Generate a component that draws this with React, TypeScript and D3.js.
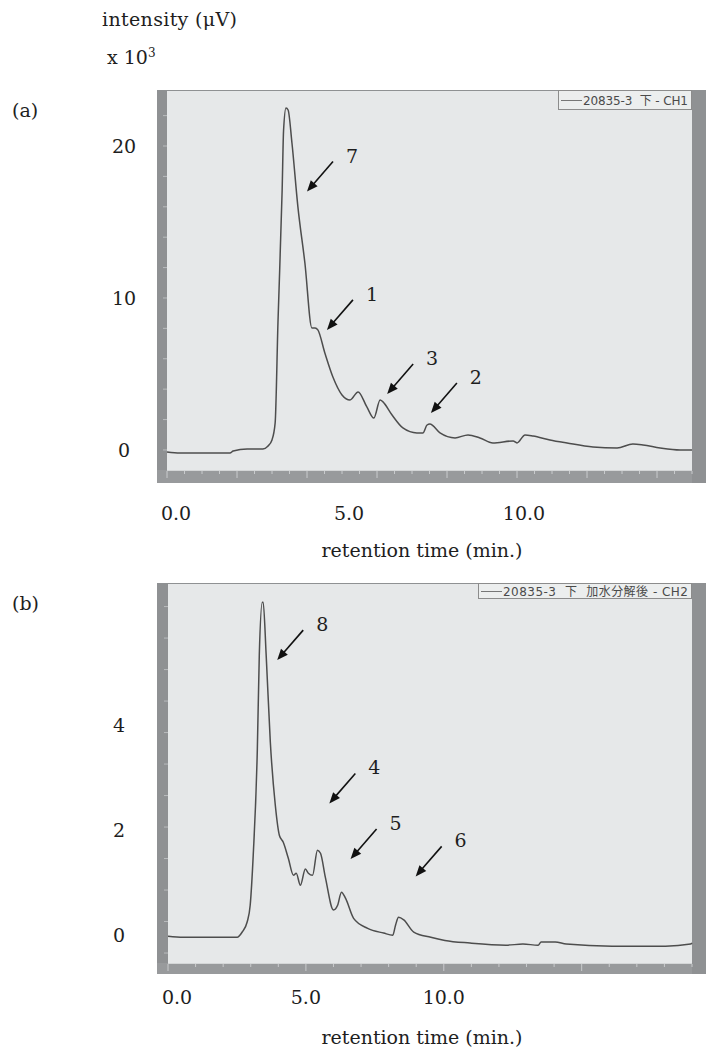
import React, { useEffect, useRef } from 'react';
import * as d3 from 'd3';

// --- Data ---
// (a) CH1, retention time (min) / intensity (x10^3 µV)
const timeA = [0, 0.37, 1.8, 1.89, 2.29, 2.74, 2.88, 3.0, 3.09, 3.17, 3.29, 3.33, 3.4, 3.46, 3.57, 3.74, 3.94, 4.14, 4.23, 4.31, 4.51, 4.74, 5.0, 5.23, 5.46, 5.71, 5.91, 6.09, 6.17, 6.43, 6.74, 7.14, 7.31, 7.43, 7.51, 7.8, 8.23, 8.6, 8.94, 9.31, 9.89, 10.0, 10.23, 10.46, 10.94, 11.43, 12.17, 12.86, 13.31, 13.6, 14.09, 14.66, 15.0];
const intensityA = [-0.13, -0.2, -0.2, -0.07, 0.07, 0.07, 0.25, 0.66, 1.78, 8.36, 17.1, 21.0, 22.5, 22.37, 20.2, 16.0, 12.3, 8.03, 8.03, 7.9, 6.38, 4.8, 3.62, 3.29, 3.82, 2.83, 2.1, 3.29, 3.16, 2.3, 1.45, 1.12, 1.12, 1.64, 1.71, 1.12, 0.79, 0.99, 0.79, 0.46, 0.59, 0.46, 0.99, 0.92, 0.66, 0.46, 0.2, 0.13, 0.39, 0.33, 0.13, 0.0, 0.0];

// (b) CH2 after hydrolysis
const timeB = [0, 0.55, 1.16, 2.51, 2.69, 2.87, 2.98, 3.09, 3.24, 3.31, 3.42, 3.45, 3.56, 3.71, 3.89, 4.04, 4.18, 4.36, 4.55, 4.65, 4.8, 4.98, 5.09, 5.24, 5.42, 5.53, 5.71, 6.0, 6.15, 6.29, 6.44, 6.73, 7.24, 7.82, 8.15, 8.25, 8.36, 8.55, 8.91, 9.53, 10.04, 10.95, 12.25, 12.87, 13.42, 13.53, 14.04, 14.44, 16.1, 18.04, 18.95, 19.0];
const intensityB = [-0.02, -0.04, -0.04, -0.04, 0.06, 0.25, 0.57, 1.52, 3.56, 5.33, 6.34, 6.34, 5.33, 3.68, 2.48, 1.9, 1.77, 1.47, 1.14, 1.18, 0.95, 1.26, 1.18, 1.14, 1.62, 1.56, 1.09, 0.48, 0.57, 0.82, 0.7, 0.32, 0.13, 0.04, 0.0, 0.19, 0.34, 0.29, 0.06, -0.04, -0.1, -0.15, -0.19, -0.17, -0.19, -0.13, -0.13, -0.17, -0.21, -0.21, -0.17, -0.15];

const xTickLabels = ['0.0', '5.0', '10.0'];
const xTickValues = [0, 5, 10];
const yTicksA = [0, 10, 20];
const yTicksB = [0, 2, 4];

// peak annotations: label, time and intensity of the arrow tip
const peaksA = [
  { label: '7', t: 4.0, v: 17.0 },
  { label: '1', t: 4.57, v: 7.9 },
  { label: '3', t: 6.29, v: 3.68 },
  { label: '2', t: 7.54, v: 2.43 },
];
const peaksB = [
  { label: '8', t: 3.96, v: 5.24 },
  { label: '4', t: 5.85, v: 2.51 },
  { label: '5', t: 6.62, v: 1.45 },
  { label: '6', t: 8.98, v: 1.12 },
];

const legendA = '20835-3  下 - CH1';
const legendB = '20835-3  下  加水分解後 - CH2';

const SERIF = "'DejaVu Serif', 'Liberation Serif', serif";
const SANS = "'DejaVu Sans', 'Noto Sans CJK JP', sans-serif";

type Panel = {
  tag: string;
  top: number; // frame top
  plotBottom: number;
  frameBottom: number;
  plotLeft: number;
  xDomain: [number, number];
  yDomain: [number, number];
  time: number[];
  values: number[];
  yTicks: number[];
  yLabelX: number;
  xMinor: number;
  xMajor: number;
  yTickStart: number;
  yTickStep: number;
  labelNudge: number;
  tickLabelY: number;
  titleY: number;
  peaks: { label: string; t: number; v: number }[];
  legend: string;
  legendLeft: number;
  legendBottom: number;
};

const panels: Panel[] = [
  {
    tag: '(a)', top: 90, plotBottom: 470, frameBottom: 483, plotLeft: 167,
    xDomain: [0, 15], yDomain: [-1.32, 23.62],
    time: timeA, values: intensityA, yTicks: yTicksA, yLabelX: 124,
    xMinor: 0.5, xMajor: 2, yTickStart: 0, yTickStep: 2,
    labelNudge: 7, tickLabelY: 520, titleY: 557,
    peaks: peaksA, legend: legendA, legendLeft: 558, legendBottom: 110,
  },
  {
    tag: '(b)', top: 583, plotBottom: 963, frameBottom: 974, plotLeft: 168,
    xDomain: [0, 19], yDomain: [-0.53, 6.69],
    time: timeB, values: intensityB, yTicks: yTicksB, yLabelX: 119,
    xMinor: 1, xMajor: 5, yTickStart: -0.34, yTickStep: 0.6,
    labelNudge: 0, tickLabelY: 1004, titleY: 1044,
    peaks: peaksB, legend: legendB, legendLeft: 478, legendBottom: 599,
  },
];

const App: React.FC = () => {
  const svgRef = useRef<SVGSVGElement | null>(null);

  useEffect(() => {
    if (!svgRef.current) return;
    const svg = d3.select(svgRef.current);
    svg.selectAll('*').remove();

    const plotRight = 692;
    const frameLeft = 157;
    const frameRight = 706;

    // axis caption at the top
    svg.append('text')
      .attr('x', 102).attr('y', 26)
      .attr('font-family', SERIF).attr('font-size', 19).attr('fill', '#1e1e1e')
      .attr('textLength', 135)
      .text('intensity (μV)');
    const exp = svg.append('text')
      .attr('x', 107).attr('y', 64)
      .attr('font-family', SERIF).attr('font-size', 19).attr('fill', '#1e1e1e');
    exp.append('tspan').text('x 10');
    exp.append('tspan').attr('font-size', 12).attr('dy', -7).text('3');

    panels.forEach(p => {
      const g = svg.append('g');
      const plotTop = p.top + 1;
      const x = d3.scaleLinear().domain(p.xDomain).range([p.plotLeft, plotRight]);
      const y = d3.scaleLinear().domain(p.yDomain).range([p.plotBottom, plotTop]);

      // --- frame ---
      g.append('rect')
        .attr('x', frameLeft).attr('y', p.top)
        .attr('width', frameRight - frameLeft).attr('height', p.frameBottom - p.top)
        .attr('fill', '#8f9193');
      g.append('rect')
        .attr('x', frameLeft).attr('y', p.plotBottom)
        .attr('width', plotRight - frameLeft).attr('height', p.frameBottom - p.plotBottom)
        .attr('fill', '#989a9c');
      g.append('rect')
        .attr('x', p.plotLeft).attr('y', plotTop)
        .attr('width', plotRight - p.plotLeft).attr('height', p.plotBottom - plotTop)
        .attr('fill', '#e6e8e9');
      g.append('line')
        .attr('x1', p.plotLeft).attr('x2', plotRight)
        .attr('y1', p.plotBottom + 0.5).attr('y2', p.plotBottom + 0.5)
        .attr('stroke', '#d4d6d7').attr('stroke-width', 1);

      // x ticks on the bottom bar
      const xt = d3.range(p.xDomain[0], p.xDomain[1] + 1e-6, p.xMinor);
      g.selectAll('.xt').data(xt).enter().append('line')
        .attr('x1', d => x(d)).attr('x2', d => x(d))
        .attr('y1', p.plotBottom + 1)
        .attr('y2', d => p.plotBottom + (Math.abs(d / p.xMajor - Math.round(d / p.xMajor)) < 1e-6 ? 8 : 4))
        .attr('stroke', '#c9cbcd').attr('stroke-width', 1);

      // y ticks on the left bar
      const yt = d3.range(p.yTickStart, p.yDomain[1], p.yTickStep);
      g.selectAll('.yt').data(yt).enter().append('line')
        .attr('x1', p.plotLeft - 4).attr('x2', p.plotLeft)
        .attr('y1', d => y(d)).attr('y2', d => y(d))
        .attr('stroke', '#b9bbbd').attr('stroke-width', 1);

      // --- legend box ---
      const lg = g.append('g');
      lg.append('rect')
        .attr('x', p.legendLeft + 0.5).attr('y', plotTop - 0.5)
        .attr('width', plotRight - p.legendLeft - 1).attr('height', p.legendBottom - plotTop)
        .attr('fill', '#eceeee').attr('stroke', '#8c8c8c').attr('stroke-width', 1);
      const ly = (plotTop + p.legendBottom) / 2;
      lg.append('line')
        .attr('x1', p.legendLeft + 3).attr('x2', p.legendLeft + 24)
        .attr('y1', ly).attr('y2', ly)
        .attr('stroke', '#777').attr('stroke-width', 1);
      lg.append('text')
        .attr('x', p.legendLeft + 25).attr('y', ly + 4.5)
        .attr('textLength', plotRight - 4 - (p.legendLeft + 25))
        .attr('lengthAdjust', 'spacing')
        .attr('font-family', SANS).attr('font-size', 12).attr('fill', '#4a4a4a')
        .style('white-space', 'pre')
        .text(p.legend);

      // --- chromatogram trace ---
      const pts = p.time.map((t, i) => [t, p.values[i]] as [number, number]);
      const line = d3.line<[number, number]>()
        .x(d => x(d[0])).y(d => y(d[1]))
        .curve(d3.curveMonotoneX);
      g.append('path')
        .attr('d', line(pts) ?? '')
        .attr('fill', 'none')
        .attr('stroke', '#4d4d4d')
        .attr('stroke-width', 1.5)
        .attr('stroke-linejoin', 'round');

      // --- peak arrows ---
      const dx = 26, dy = -30;
      const len = Math.hypot(dx, dy);
      const ux = -dx / len, uy = -dy / len; // direction start -> tip
      p.peaks.forEach(pk => {
        const tx = x(pk.t), ty = y(pk.v);
        const sx = tx + dx, sy = ty + dy;
        const bx = tx - ux * 11, by = ty - uy * 11;
        g.append('line')
          .attr('x1', sx).attr('y1', sy).attr('x2', bx + ux * 2).attr('y2', by + uy * 2)
          .attr('stroke', '#111').attr('stroke-width', 1.6);
        g.append('path')
          .attr('d', `M${tx},${ty}L${bx + uy * 4.5},${by - ux * 4.5}L${bx - uy * 4.5},${by + ux * 4.5}Z`)
          .attr('fill', '#111');
        g.append('text')
          .attr('x', sx + 19).attr('y', sy + 1)
          .attr('text-anchor', 'middle')
          .attr('font-family', SERIF).attr('font-size', 19).attr('fill', '#1e1e1e')
          .text(pk.label);
      });

      // --- axis labels ---
      g.selectAll('.yl').data(p.yTicks).enter().append('text')
        .attr('x', p.yLabelX).attr('y', d => y(d) + 7)
        .attr('text-anchor', 'middle')
        .attr('font-family', SERIF).attr('font-size', 19).attr('fill', '#1e1e1e')
        .text(d => String(d));

      g.selectAll('.xl').data(xTickValues).enter().append('text')
        .attr('x', d => x(d) + (d === 0 ? 9 : p.labelNudge))
        .attr('y', p.tickLabelY)
        .attr('text-anchor', 'middle')
        .attr('font-family', SERIF).attr('font-size', 19).attr('fill', '#1e1e1e')
        .text((d, i) => xTickLabels[i]);

      g.append('text')
        .attr('x', 422).attr('y', p.titleY)
        .attr('text-anchor', 'middle')
        .attr('font-family', SERIF).attr('font-size', 19).attr('fill', '#1e1e1e')
        .text('retention time (min.)');

      g.append('text')
        .attr('x', 12).attr('y', p.top + 27)
        .attr('font-family', SERIF).attr('font-size', 19).attr('fill', '#1e1e1e')
        .text(p.tag);
    });
  }, []);

  return (
    <svg
      ref={svgRef}
      width={706}
      height={1053}
      style={{ position: 'absolute', left: 0, top: 0, background: '#fff' }}
    />
  );
};

export default App;
